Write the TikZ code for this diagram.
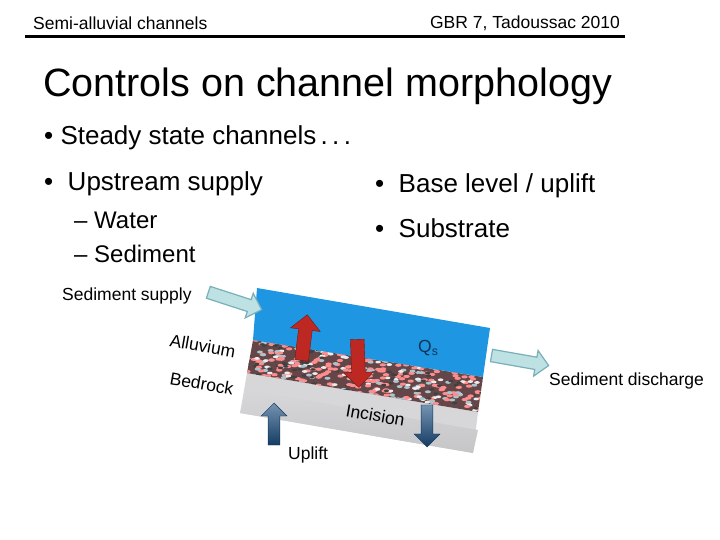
\documentclass[tikz,border=0pt]{standalone}
\usepackage{fontspec}
\setmainfont{Liberation Sans}
\usetikzlibrary{shapes.arrows}
\definecolor{water}{RGB}{30,150,225}
\definecolor{rock}{RGB}{215,215,218}
\definecolor{gravel}{RGB}{100,70,72}
\definecolor{flux}{RGB}{190,225,228}
\definecolor{fluxline}{RGB}{120,175,185}
\definecolor{redarr}{RGB}{190,40,35}
\definecolor{bluearr}{RGB}{25,75,125}
\tikzset{
  txt/.style={anchor=west,inner sep=0pt},
  fat/.style={single arrow,minimum height=#1,minimum width=26pt,
    single arrow head extend=5pt,inner sep=4pt,draw},
  flow/.style={fat=#1,fill=flux,draw=fluxline,line width=1.2pt},
  redup/.style={fat=#1,fill=redarr,draw=redarr!60!black,minimum width=30pt},
  blueup/.style={fat=#1,top color=bluearr!60,bottom color=bluearr!80!black,draw=bluearr!70!black,shading angle=0}
}
\begin{document}
\begin{tikzpicture}[x=1pt,y=-1pt]
\useasboundingbox (0,0) rectangle (720,540);
% header
\node[txt] (head) at (33,23) {\fontsize{17.5}{18}\selectfont Semi-alluvial channels};
\node[anchor=east,inner sep=0pt] (place) at (620,23) {\fontsize{17.5}{18}\selectfont GBR 7, Tadoussac 2010};
\draw[line width=3pt] (25,37) -- (625,37);
% title and bullets
\node[txt] (title) at (43,86) {\fontsize{39.5}{40}\selectfont Controls on channel morphology};
\node[txt] (steady) at (44,138) {\fontsize{26}{26}\selectfont • Steady state channels\,.\,.\,.};
\node[txt] (upstream) at (44,184) {\fontsize{26}{26}\selectfont •\ \ Upstream supply};
\node[txt] (water) at (74,220) {\fontsize{24}{24}\selectfont –\ Water};
\node[txt] (sed) at (74,254) {\fontsize{24}{24}\selectfont –\ Sediment};
\node[txt] (base) at (375,186) {\fontsize{26}{26}\selectfont •\ \ Base level / uplift};
\node[txt] (subs) at (375,228) {\fontsize{26}{26}\selectfont •\ \ Substrate};
% channel section
\fill[rock] (247,373) -- (478,412) -- (473,453) -- (240,413) -- cycle;
\shade[top color=rock,bottom color=rock!92!black] (247,390) -- (478,430) -- (473,453) -- (240,413) -- cycle;
\fill[gravel] (253,340) -- (483,377) -- (478,412) -- (247,373) -- cycle;
\begin{scope}
\clip (253,340) -- (483,377) -- (478,412) -- (247,373) -- cycle;
\pgfmathsetseed{7}
\foreach \i in {1,...,900}{
  \pgfmathsetmacro{\px}{245+240*rnd}
  \pgfmathsetmacro{\py}{335+80*rnd}
  \pgfmathsetmacro{\pc}{rnd}
  \ifdim\pc pt<0.45pt \fill[red!45!white] (\px,\py) ellipse (3.2 and 1.6);
  \else\ifdim\pc pt<0.6pt \fill[cyan!30!gray!60] (\px,\py) ellipse (3 and 1.5);
  \else\ifdim\pc pt<0.75pt \fill[white!85!gray] (\px,\py) ellipse (2.8 and 1.4);
  \else \fill[black!75] (\px,\py) ellipse (2.6 and 1.3);\fi\fi\fi
}
\end{scope}
\fill[water] (257,288) -- (490,328) -- (483,377) -- (253,340) -- cycle;
% arrows
\node[redup=46pt,rotate=83] (exch) at (304,341) {};
\node[redup=48pt,rotate=-88] (depo) at (358,360) {};
\node[blueup=42pt,rotate=90] (upl) at (274,427) {};
\node[blueup=42pt,rotate=-90] (inc) at (427,423) {};
\node[flow=56pt,rotate=-18] (supply) at (232,300) {};
\node[flow=58pt,rotate=-10] (dis) at (517,360) {};
% labels
\node[txt] (supl) at (62,296) {\fontsize{17.5}{18}\selectfont Sediment supply};
\node[txt] (disl) at (549,381) {\fontsize{17.5}{18}\selectfont Sediment discharge};
\node[txt] (uplt) at (288,455) {\fontsize{17.5}{18}\selectfont Uplift};
\node[txt,rotate=-10] (allu) at (170,340) {\fontsize{17.5}{18}\selectfont Alluvium};
\node[txt,rotate=-10] (bed) at (170,378) {\fontsize{17.5}{18}\selectfont Bedrock};
\node[txt,rotate=-10] (incl) at (346,410) {\fontsize{17.5}{18}\selectfont Incision};
\node[txt,text=bluearr!70!black] (qs) at (418,348) {\fontsize{17.5}{18}\selectfont Q\textsubscript{s}};
\end{tikzpicture}
\end{document}
